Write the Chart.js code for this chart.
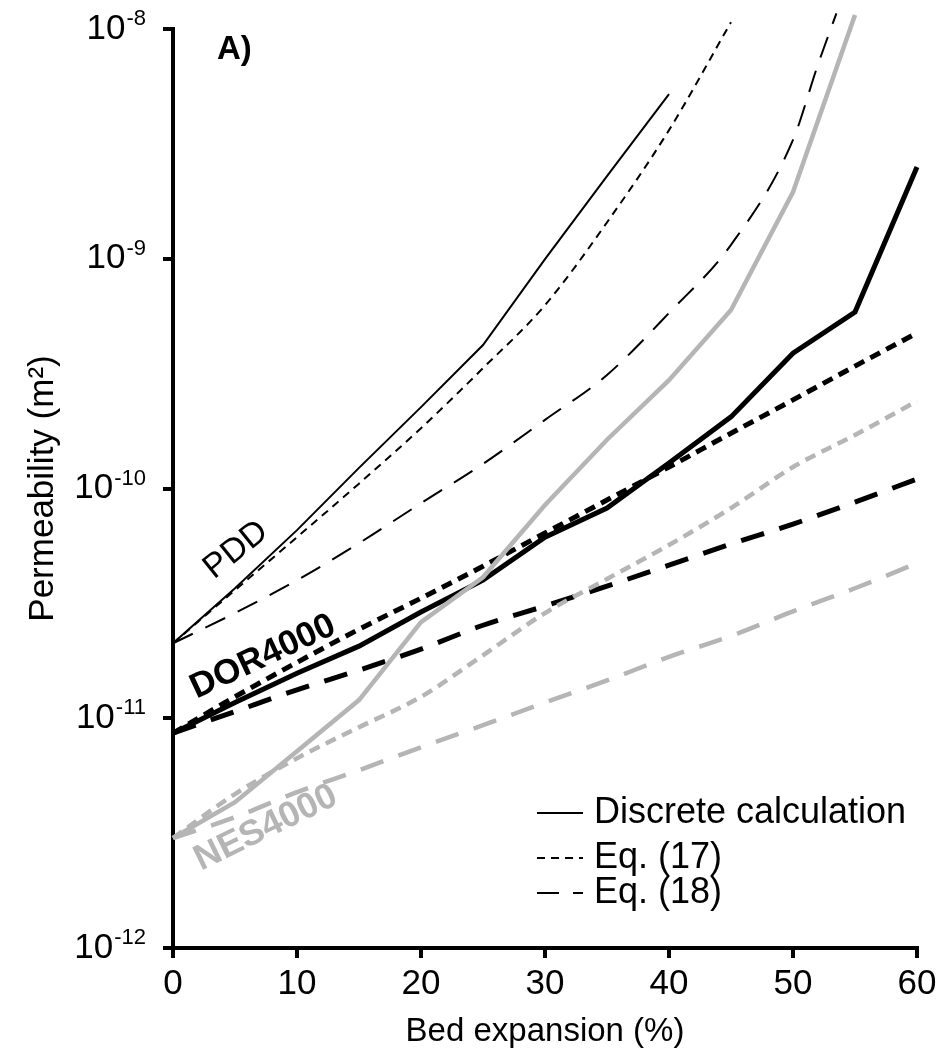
<!DOCTYPE html>
<html>
<head>
<meta charset="utf-8">
<script src="https://cdn.jsdelivr.net/npm/chart.js@4.4.1/dist/chart.umd.min.js"></script>
<style>
  html, body { margin: 0; padding: 0; background: #fff; }
</style>
</head>
<body>
<canvas id="permChart" width="945" height="1057"></canvas>
<script>
// Datos (expansion del lecho en %, permeabilidad en m2)
const bedFull = [0, 5, 10, 15, 20, 25, 30, 35, 40, 45, 50, 55, 60];
const bedPDD = [0, 5, 10, 15, 20, 25, 30, 35, 40];
const bedPDD17 = [0, 5, 10, 15, 20, 25, 30, 35, 40, 45];
const bedPDD18 = [0, 5, 10, 15, 20, 25, 30, 35, 40, 45, 50, 52, 53.5];
const bedNES = [0, 5, 10, 15, 20, 25, 30, 35, 40, 45, 50, 55];

const pddDiscrete = [2.12e-11, 3.68e-11, 6.59e-11, 1.23e-10, 2.26e-10, 4.21e-10, 9.97e-10, 2.29e-9, 5.21e-9];
const pddEq17 = [2.12e-11, 3.61e-11, 6.14e-11, 1.05e-10, 1.83e-10, 3.34e-10, 6.28e-10, 1.44e-9, 3.63e-9, 1.07e-8];
const pddEq18 = [2.12e-11, 2.87e-11, 3.99e-11, 5.78e-11, 8.63e-11, 1.28e-10, 1.99e-10, 3.12e-10, 5.81e-10, 1.15e-9, 3.29e-9, 6.97e-9, 1.17e-8];

const dorDiscrete = [8.61e-12, 1.17e-11, 1.57e-11, 2.06e-11, 2.90e-11, 3.99e-11, 6.14e-11, 8.22e-11, 1.29e-10, 2.05e-10, 3.88e-10, 5.86e-10, 2.51e-9];
const dorEq17 = [8.61e-12, 1.24e-11, 1.75e-11, 2.44e-11, 3.33e-11, 4.59e-11, 6.40e-11, 8.91e-11, 1.24e-10, 1.74e-10, 2.43e-10, 3.41e-10, 4.75e-10];
const dorEq18 = [8.61e-12, 1.07e-11, 1.33e-11, 1.62e-11, 2.00e-11, 2.54e-11, 3.08e-11, 3.76e-11, 4.64e-11, 5.73e-11, 7.00e-11, 8.73e-11, 1.10e-10];

const nesDiscrete = [3.01e-12, 4.31e-12, 7.19e-12, 1.20e-11, 2.62e-11, 4.11e-11, 8.47e-11, 1.63e-10, 2.96e-10, 5.98e-10, 1.95e-9, 1.15e-8];
const nesEq17 = [3.01e-12, 4.68e-12, 6.70e-12, 9.14e-12, 1.24e-11, 1.88e-11, 2.87e-11, 4.04e-11, 5.68e-11, 8.22e-11, 1.24e-10, 1.71e-10, 2.40e-10];
const nesEq18 = [3.01e-12, 3.71e-12, 4.77e-12, 5.94e-12, 7.48e-12, 9.33e-12, 1.17e-11, 1.46e-11, 1.85e-11, 2.28e-11, 2.92e-11, 3.68e-11, 4.73e-11];

const decadas = [-12, -11, -10, -9, -8];
const xTicks = [0, 10, 20, 30, 40, 50, 60];
const legendLabels = ['Discrete calculation', 'Eq. (17)', 'Eq. (18)'];

const FONT = '"Liberation Sans", Arial, sans-serif';
const GRIS = '#b5b5b5';

const pares = (xs, ys) => xs.map((x, i) => ({ x: x, y: ys[i] }));

function serie(label, xs, ys, color, width, dash, curva) {
  return {
    label: label,
    data: pares(xs, ys),
    borderColor: color,
    borderWidth: width,
    borderDash: dash,
    pointRadius: 0,
    fill: false,
    clip: false,
    cubicInterpolationMode: curva ? 'monotone' : 'default',
    tension: 0
  };
}

// Texto extra: etiquetas del eje y con exponentes, nombres de curvas y leyenda
const textosPlugin = {
  id: 'textos',
  afterDraw(chart) {
    const ctx = chart.ctx;
    const ys = chart.scales.y;
    ctx.save();
    ctx.fillStyle = '#000';
    ctx.textAlign = 'right';
    ctx.textBaseline = 'middle';
    decadas.forEach(e => {
      const py = ys.getPixelForValue(Math.pow(10, e));
      const exp = String(e);
      ctx.font = '22px ' + FONT;
      const w = ctx.measureText(exp).width;
      ctx.fillText(exp, 146, py - 10);
      ctx.font = '35px ' + FONT;
      ctx.fillText('10', 146 - w - 1, py);
    });

    // "A)"
    ctx.textAlign = 'left';
    ctx.font = 'bold 33px ' + FONT;
    ctx.fillText('A)', 217, 50);

    const rotado = (txt, x, y, ang, font, color) => {
      ctx.save();
      ctx.translate(x, y);
      ctx.rotate(ang * Math.PI / 180);
      ctx.textAlign = 'center';
      ctx.textBaseline = 'middle';
      ctx.font = font;
      ctx.fillStyle = color;
      ctx.fillText(txt, 0, 0);
      ctx.restore();
    };
    rotado('PDD', 236, 550, -39, '34px ' + FONT, '#000');
    rotado('DOR4000', 263, 657, -25, 'bold 35px ' + FONT, '#000');
    rotado('NES4000', 266, 828, -26, 'bold 36px ' + FONT, GRIS);

    // leyenda
    const dashes = [[], [8, 6], [22, 14]];
    const filas = [813, 858, 893];
    legendLabels.forEach((txt, i) => {
      ctx.beginPath();
      ctx.setLineDash(dashes[i]);
      ctx.lineWidth = 2;
      ctx.strokeStyle = '#000';
      ctx.moveTo(537, filas[i]);
      ctx.lineTo(583, filas[i]);
      ctx.stroke();
      ctx.setLineDash([]);
      ctx.font = '36px ' + FONT;
      ctx.textAlign = 'left';
      ctx.textBaseline = 'middle';
      ctx.fillStyle = '#000';
      ctx.fillText(txt, 594, filas[i]);
    });
    ctx.restore();
  }
};

const ctxPerm = document.getElementById('permChart').getContext('2d');
new Chart(ctxPerm, {
  type: 'line',
  data: {
    datasets: [
      serie('NES4000 Eq. (18)', bedFull, nesEq18, GRIS, 4.5, [24, 16], true),
      serie('NES4000 Eq. (17)', bedFull, nesEq17, GRIS, 4.5, [11, 7], true),
      serie('NES4000 discrete', bedNES, nesDiscrete, GRIS, 4.5, [], false),
      serie('DOR4000 Eq. (18)', bedFull, dorEq18, '#000', 5, [24, 16], true),
      serie('DOR4000 Eq. (17)', bedFull, dorEq17, '#000', 5, [11, 7], true),
      serie('DOR4000 discrete', bedFull, dorDiscrete, '#000', 5, [], false),
      serie('PDD Eq. (18)', bedPDD18, pddEq18, '#000', 2, [22, 14], true),
      serie('PDD Eq. (17)', bedPDD17, pddEq17, '#000', 2, [8, 6], true),
      serie('PDD discrete', bedPDD, pddDiscrete, '#000', 2, [], false)
    ]
  },
  options: {
    responsive: false,
    animation: false,
    devicePixelRatio: 1,
    layout: { padding: { top: 29, right: 28, left: 0, bottom: 0 } },
    plugins: {
      legend: { display: false },
      tooltip: { enabled: false }
    },
    scales: {
      x: {
        type: 'linear',
        min: 0,
        max: 60,
        afterBuildTicks: s => { s.ticks = xTicks.map(v => ({ value: v })); },
        afterFit: s => { s.height = 109; },
        ticks: { color: '#000', font: { family: FONT, size: 35 }, padding: 5, maxRotation: 0 },
        grid: { display: true, drawOnChartArea: false, drawTicks: true, tickLength: 10, lineWidth: 4, color: '#000' },
        border: { display: true, width: 4, color: '#000' },
        title: { display: true, text: 'Bed expansion (%)', color: '#000', font: { family: FONT, size: 33 }, padding: { top: 0, bottom: 5 } }
      },
      y: {
        type: 'logarithmic',
        min: 1e-12,
        max: 1e-8,
        afterBuildTicks: s => { s.ticks = decadas.map(e => ({ value: Math.pow(10, e) })); },
        afterFit: s => { s.width = 173; },
        ticks: { callback: () => '' },
        grid: { display: true, drawOnChartArea: false, drawTicks: true, tickLength: 10, lineWidth: 4, color: '#000' },
        border: { display: true, width: 4, color: '#000' },
        title: { display: true, text: 'Permeability (m²)', color: '#000', font: { family: FONT, size: 35 }, padding: { top: 22, bottom: 0 } }
      }
    }
  },
  plugins: [textosPlugin]
});
</script>
</body>
</html>
